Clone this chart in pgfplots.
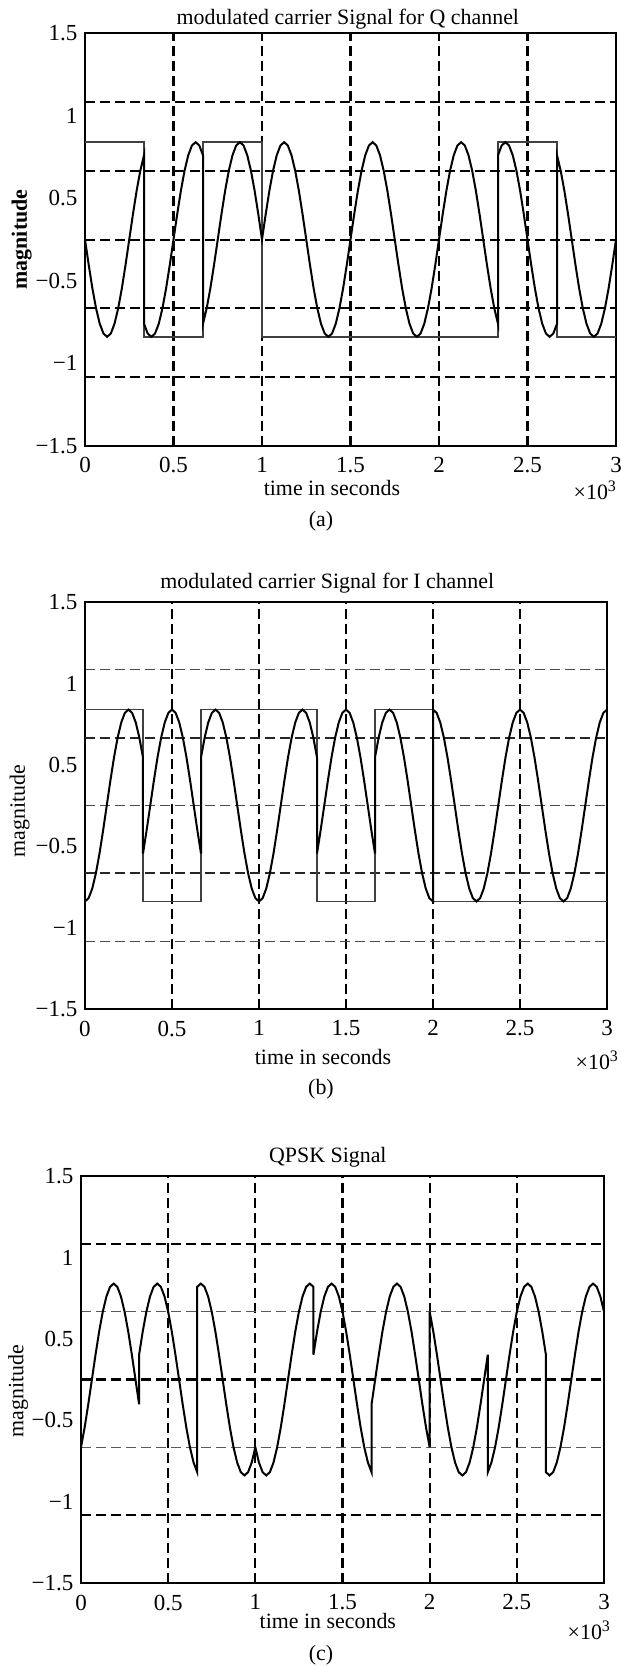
\documentclass[border=0pt,11pt]{standalone}
\usepackage{fontspec}
\setmainfont{Liberation Serif}
\usepackage{pgfplots}
\pgfplotsset{compat=1.18}

\pgfplotsset{
  every axis title shift=0pt,
  panel/.style={
    scale only axis, anchor=north west,
    xmin=0, xmax=144, ymin=-1.5, ymax=1.5,
    xtick={0,24,48,72,96,120,144},
    xticklabels={0,0.5,1,1.5,2,2.5,3},
    ytick={-1.5,-0.9,-0.3,0.3,0.9,1.5},
    yticklabels={−1.5,−1,−0.5,0.5,1,1.5},
    major tick length=0pt, minor tick length=0pt,
    xmajorgrids, ymajorgrids=false,
    major grid style={black, line width=1.05pt, dash pattern=on 5pt off 2.5pt},
    minor grid style={black, line width=1pt, dash pattern=on 5pt off 2.5pt},
    axis line style={line width=0.8pt},
    tick label style={font=\fontsize{11.5}{13}\selectfont},
    xticklabel style={yshift=-2pt},
    clip=false,
  },
  sig/.style={black, line width=1pt},
  sq/.style={black!75, line width=0.75pt},
}

\begin{document}
\begin{tikzpicture}
\path[use as bounding box] (0pt,0pt) rectangle (310.5pt,-833pt);

% (a) Q channel
\begin{axis}[panel, at={(42.5pt,-16.5pt)}, width=265.5pt, height=206.5pt,
  minor ytick={-1,-0.5,0,0.5,1}, yminorgrids,
  title={modulated carrier Signal for Q channel},
  title style={at={(axis description cs:0.495,1.034)}, anchor=center},
  xlabel={time in seconds},
  xlabel style={at={(axis description cs:0.465,-0.102)}, anchor=center},
  ylabel={\bfseries magnitude},
  ylabel style={at={(axis description cs:-0.119,0.5)}, anchor=center}]
\addplot[sq] coordinates {(0,0.707)(16,0.707)(16,-0.707)(32,-0.707)(32,0.707)(48,0.707)(48,-0.707)(112,-0.707)(112,0.707)(128,0.707)(128,-0.707)(144,-0.707)};
\addplot[sig] coordinates {
(0,0)(1,-0.183)(2,-0.354)(3,-0.5)(4,-0.612)(5,-0.683)(6,-0.707)(7,-0.683)(8,-0.612)(9,-0.5)(10,-0.354)(11,-0.183)(12,0)(13,0.183)(14,0.354)(15,0.5)(16,0.612)
(16,-0.612)(17,-0.683)(18,-0.707)(19,-0.683)(20,-0.612)(21,-0.5)(22,-0.354)(23,-0.183)(24,0)(25,0.183)(26,0.354)(27,0.5)(28,0.612)(29,0.683)(30,0.707)(31,0.683)(32,0.612)
(32,-0.612)(33,-0.5)(34,-0.354)(35,-0.183)(36,0)(37,0.183)(38,0.354)(39,0.5)(40,0.612)(41,0.683)(42,0.707)(43,0.683)(44,0.612)(45,0.5)(46,0.354)(47,0.183)(48,0)
(49,0.183)(50,0.354)(51,0.5)(52,0.612)(53,0.683)(54,0.707)(55,0.683)(56,0.612)(57,0.5)(58,0.354)(59,0.183)(60,0)(61,-0.183)(62,-0.354)(63,-0.5)(64,-0.612)
(65,-0.683)(66,-0.707)(67,-0.683)(68,-0.612)(69,-0.5)(70,-0.354)(71,-0.183)(72,0)(73,0.183)(74,0.354)(75,0.5)(76,0.612)(77,0.683)(78,0.707)(79,0.683)(80,0.612)
(81,0.5)(82,0.354)(83,0.183)(84,0)(85,-0.183)(86,-0.354)(87,-0.5)(88,-0.612)(89,-0.683)(90,-0.707)(91,-0.683)(92,-0.612)(93,-0.5)(94,-0.354)(95,-0.183)(96,0)
(97,0.183)(98,0.354)(99,0.5)(100,0.612)(101,0.683)(102,0.707)(103,0.683)(104,0.612)(105,0.5)(106,0.354)(107,0.183)(108,0)(109,-0.183)(110,-0.354)(111,-0.5)(112,-0.612)
(112,0.612)(113,0.683)(114,0.707)(115,0.683)(116,0.612)(117,0.5)(118,0.354)(119,0.183)(120,0)(121,-0.183)(122,-0.354)(123,-0.5)(124,-0.612)(125,-0.683)(126,-0.707)(127,-0.683)(128,-0.612)
(128,0.612)(129,0.5)(130,0.354)(131,0.183)(132,0)(133,-0.183)(134,-0.354)(135,-0.5)(136,-0.612)(137,-0.683)(138,-0.707)(139,-0.683)(140,-0.612)(141,-0.5)(142,-0.354)(143,-0.183)(144,0)
};
\end{axis}
\node[anchor=west] at (283pt,-245pt) {×10\textsuperscript{3}};
\node at (160.5pt,-260.5pt) {(a)};

% (b) I channel
\begin{axis}[panel, at={(42.5pt,-301pt)}, width=261pt, height=203.5pt,
  minor ytick={-1,0,1}, yminorgrids,
  minor grid style={black!70, line width=0.6pt, dash pattern=on 5pt off 2.5pt},
  extra y ticks={-0.5,0.5}, extra y tick labels={},
  extra y tick style={grid=major, major grid style={black!85, line width=1.05pt, dash pattern=on 5pt off 2.5pt}},
  title={modulated carrier Signal for I channel},
  title style={at={(axis description cs:0.464,1.047)}, anchor=center},
  xlabel={time in seconds},
  xlabel style={at={(axis description cs:0.456,-0.118)}, anchor=center},
  ylabel={magnitude},
  ylabel style={at={(axis description cs:-0.125,0.486)}, anchor=center}]
\addplot[sq] coordinates {(0,0.707)(16,0.707)(16,-0.707)(32,-0.707)(32,0.707)(64,0.707)(64,-0.707)(80,-0.707)(80,0.707)(96,0.707)(96,-0.707)(144,-0.707)};
\addplot[sig] coordinates {
(0,-0.707)(1,-0.683)(2,-0.612)(3,-0.5)(4,-0.354)(5,-0.183)(6,0)(7,0.183)(8,0.354)(9,0.5)(10,0.612)(11,0.683)(12,0.707)(13,0.683)(14,0.612)(15,0.5)(16,0.354)
(16,-0.354)(17,-0.183)(18,0)(19,0.183)(20,0.354)(21,0.5)(22,0.612)(23,0.683)(24,0.707)(25,0.683)(26,0.612)(27,0.5)(28,0.354)(29,0.183)(30,0)(31,-0.183)(32,-0.354)
(32,0.354)(33,0.5)(34,0.612)(35,0.683)(36,0.707)(37,0.683)(38,0.612)(39,0.5)(40,0.354)(41,0.183)(42,0)(43,-0.183)(44,-0.354)(45,-0.5)(46,-0.612)(47,-0.683)(48,-0.707)
(49,-0.683)(50,-0.612)(51,-0.5)(52,-0.354)(53,-0.183)(54,0)(55,0.183)(56,0.354)(57,0.5)(58,0.612)(59,0.683)(60,0.707)(61,0.683)(62,0.612)(63,0.5)(64,0.354)
(64,-0.354)(65,-0.183)(66,0)(67,0.183)(68,0.354)(69,0.5)(70,0.612)(71,0.683)(72,0.707)(73,0.683)(74,0.612)(75,0.5)(76,0.354)(77,0.183)(78,0)(79,-0.183)(80,-0.354)
(80,0.354)(81,0.5)(82,0.612)(83,0.683)(84,0.707)(85,0.683)(86,0.612)(87,0.5)(88,0.354)(89,0.183)(90,0)(91,-0.183)(92,-0.354)(93,-0.5)(94,-0.612)(95,-0.683)(96,-0.707)
(96,0.707)(97,0.683)(98,0.612)(99,0.5)(100,0.354)(101,0.183)(102,0)(103,-0.183)(104,-0.354)(105,-0.5)(106,-0.612)(107,-0.683)(108,-0.707)(109,-0.683)(110,-0.612)(111,-0.5)(112,-0.354)
(113,-0.183)(114,0)(115,0.183)(116,0.354)(117,0.5)(118,0.612)(119,0.683)(120,0.707)(121,0.683)(122,0.612)(123,0.5)(124,0.354)(125,0.183)(126,0)(127,-0.183)(128,-0.354)
(129,-0.5)(130,-0.612)(131,-0.683)(132,-0.707)(133,-0.683)(134,-0.612)(135,-0.5)(136,-0.354)(137,-0.183)(138,0)(139,0.183)(140,0.354)(141,0.5)(142,0.612)(143,0.683)(144,0.707)
};
\end{axis}
\node[anchor=west] at (284pt,-530pt) {×10\textsuperscript{3}};
\node at (160.5pt,-544.5pt) {(b)};

% (c) QPSK
\begin{axis}[panel, at={(40.5pt,-588pt)}, width=261.5pt, height=203.5pt,
  minor ytick={-0.5,0.5}, yminorgrids,
  minor grid style={black!65, line width=0.6pt, dash pattern=on 5pt off 2.5pt},
  extra y ticks={-1,0,1}, extra y tick labels={},
  extra y tick style={grid=major, major grid style={black, line width=1.05pt, dash pattern=on 5pt off 2.5pt}},
  title={QPSK Signal},
  title style={at={(axis description cs:0.472,1.047)}, anchor=center},
  xlabel={time in seconds},
  xlabel style={at={(axis description cs:0.472,-0.094)}, anchor=center},
  ylabel={magnitude},
  ylabel style={at={(axis description cs:-0.120,0.472)}, anchor=center}]
\addplot[sig] coordinates {
(0,-0.5)(1,-0.354)(2,-0.183)(3,0)(4,0.183)(5,0.354)(6,0.5)(7,0.612)(8,0.683)(9,0.707)(10,0.683)(11,0.612)(12,0.5)(13,0.354)(14,0.183)(15,0)(16,-0.183)
(16,0.183)(17,0.354)(18,0.5)(19,0.612)(20,0.683)(21,0.707)(22,0.683)(23,0.612)(24,0.5)(25,0.354)(26,0.183)(27,0)(28,-0.183)(29,-0.354)(30,-0.5)(31,-0.612)(32,-0.683)
(32,0.683)(33,0.707)(34,0.683)(35,0.612)(36,0.5)(37,0.354)(38,0.183)(39,0)(40,-0.183)(41,-0.354)(42,-0.5)(43,-0.612)(44,-0.683)(45,-0.707)(46,-0.683)(47,-0.612)(48,-0.5)
(49,-0.612)(50,-0.683)(51,-0.707)(52,-0.683)(53,-0.612)(54,-0.5)(55,-0.354)(56,-0.183)(57,0)(58,0.183)(59,0.354)(60,0.5)(61,0.612)(62,0.683)(63,0.707)(64,0.683)
(64,0.183)(65,0.354)(66,0.5)(67,0.612)(68,0.683)(69,0.707)(70,0.683)(71,0.612)(72,0.5)(73,0.354)(74,0.183)(75,0)(76,-0.183)(77,-0.354)(78,-0.5)(79,-0.612)(80,-0.683)
(80,-0.183)(81,0)(82,0.183)(83,0.354)(84,0.5)(85,0.612)(86,0.683)(87,0.707)(88,0.683)(89,0.612)(90,0.5)(91,0.354)(92,0.183)(93,0)(94,-0.183)(95,-0.354)(96,-0.5)
(96,0.5)(97,0.354)(98,0.183)(99,0)(100,-0.183)(101,-0.354)(102,-0.5)(103,-0.612)(104,-0.683)(105,-0.707)(106,-0.683)(107,-0.612)(108,-0.5)(109,-0.354)(110,-0.183)(111,0)(112,0.183)
(112,-0.683)(113,-0.612)(114,-0.5)(115,-0.354)(116,-0.183)(117,0)(118,0.183)(119,0.354)(120,0.5)(121,0.612)(122,0.683)(123,0.707)(124,0.683)(125,0.612)(126,0.5)(127,0.354)(128,0.183)
(128,-0.683)(129,-0.707)(130,-0.683)(131,-0.612)(132,-0.5)(133,-0.354)(134,-0.183)(135,0)(136,0.183)(137,0.354)(138,0.5)(139,0.612)(140,0.683)(141,0.707)(142,0.683)(143,0.612)(144,0.5)
};
\end{axis}
\node[anchor=west] at (280pt,-815pt) {×10\textsuperscript{3}};
\node at (160.5pt,-827.5pt) {(c)};
\end{tikzpicture}
\end{document}
